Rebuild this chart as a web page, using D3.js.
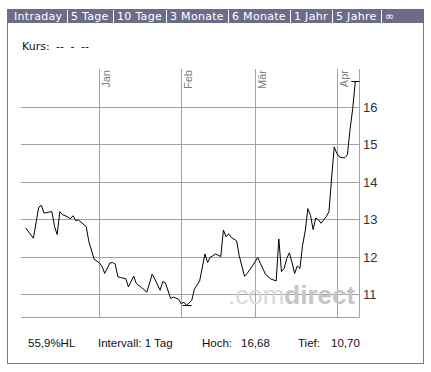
<!DOCTYPE html>
<html>
<head>
<meta charset="utf-8">
<script src="https://cdn.jsdelivr.net/npm/d3@7"></script>
<style>
body { margin: 0; background: #fff; }
svg { display: block; }
</style>
</head>
<body>
<svg id="chart" width="431" height="372"></svg>
<script>
// period selector captions
var tabLabels = ['Intraday', '5 Tage', '10 Tage', '3 Monate', '6 Monate', '1 Jahr', '5 Jahre', '\u221e'];

// daily prices
var dates = [
	'2008-12-04', '2008-12-07', '2008-12-09', '2008-12-10', '2008-12-11', '2008-12-13', '2008-12-14',
	'2008-12-15', '2008-12-16', '2008-12-17', '2008-12-18', '2008-12-20', '2008-12-21', '2008-12-22',
	'2008-12-23', '2008-12-24', '2008-12-25', '2008-12-27', '2008-12-28', '2008-12-30', '2009-01-01',
	'2009-01-02', '2009-01-03', '2009-01-05', '2009-01-06', '2009-01-07', '2009-01-08', '2009-01-09',
	'2009-01-11', '2009-01-12', '2009-01-14', '2009-01-15', '2009-01-17', '2009-01-19', '2009-01-21',
	'2009-01-22', '2009-01-24', '2009-01-25', '2009-01-26', '2009-01-28', '2009-01-29', '2009-01-31',
	'2009-02-01', '2009-02-02', '2009-02-03', '2009-02-05', '2009-02-06', '2009-02-08', '2009-02-10',
	'2009-02-11', '2009-02-12', '2009-02-13', '2009-02-14', '2009-02-16', '2009-02-17', '2009-02-18',
	'2009-02-19', '2009-02-20', '2009-02-22', '2009-02-23', '2009-02-25', '2009-02-26', '2009-02-28',
	'2009-03-01', '2009-03-02', '2009-03-03', '2009-03-05', '2009-03-07', '2009-03-09', '2009-03-10',
	'2009-03-11', '2009-03-12', '2009-03-13', '2009-03-14', '2009-03-15', '2009-03-16', '2009-03-17',
	'2009-03-18', '2009-03-19', '2009-03-20', '2009-03-21', '2009-03-22', '2009-03-23', '2009-03-24',
	'2009-03-25', '2009-03-26', '2009-03-27', '2009-03-28', '2009-03-29', '2009-03-30', '2009-03-31',
	'2009-04-01', '2009-04-02', '2009-04-03', '2009-04-04', '2009-04-05', '2009-04-06', '2009-04-07',
	'2009-04-08'
];
var prices = [
	12.77, 12.49, 13.32, 13.37, 13.16, 13.19, 13.20,
	12.80, 12.59, 13.20, 13.12, 13.06, 13.01, 13.09,
	12.96, 12.98, 12.92, 12.80, 12.40, 11.93, 11.83,
	11.74, 11.55, 11.83, 11.84, 11.80, 11.46, 11.44,
	11.41, 11.19, 11.48, 11.28, 11.17, 11.05, 11.53,
	11.40, 11.10, 11.33, 11.30, 10.88, 10.92, 10.86,
	10.74, 10.78, 10.70, 10.83, 11.13, 11.35, 12.07,
	11.84, 11.98, 12.02, 12.07, 12.00, 12.71, 12.53,
	12.61, 12.51, 12.42, 12.02, 11.47, 11.55, 11.75,
	11.86, 11.98, 11.82, 11.52, 11.40, 11.35, 12.47,
	11.60, 11.68, 11.95, 12.10, 11.84, 11.55, 11.75,
	11.68, 12.30, 12.68, 13.28, 13.10, 12.72, 13.03,
	12.98, 12.89, 12.98, 13.07, 13.20, 14.10, 14.93,
	14.75, 14.66, 14.64, 14.64, 14.72, 15.40, 15.95,
	16.68
];

var monthTicks = ['2009-01-01', '2009-02-01', '2009-03-01', '2009-04-01'];
var monthLabels = ['Jan', 'Feb', 'M\u00e4r', 'Apr'];
var priceTicks = [11, 12, 13, 14, 15, 16];
var xDomain = ['2008-12-02T16:00', '2009-04-09T12:00'];
var yDomain = [10.378, 17.01];

var chart = {
	draw : function() {
		var svg = d3.select('#chart');
		var parseDay = d3.timeParse('%Y-%m-%d'),
				parseTime = d3.timeParse('%Y-%m-%dT%H:%M');
		var de = d3.formatLocale({decimal: ',', thousands: '.', grouping: [3], currency: ['', ' \u20ac']});
		var fmt2 = de.format('.2f'), fmt1 = de.format('.1f');

		var plot = {left: 22, right: 359.3, top: 69, bottom: 317.3};

		var x = d3.scaleTime()
				.domain(xDomain.map(parseTime))
				.range([plot.left, plot.right]);
		var y = d3.scaleLinear()
				.domain(yDomain)
				.range([plot.bottom, plot.top]);

		var data = dates.map(function(d, i) { return {date: parseDay(d), price: prices[i]}; });
		var crisp = function(v) { return Math.round(v) + 0.5; };

		// frame and tab bar
		svg.append('rect')
			.attr('x', 7.5).attr('y', 9.5).attr('width', 416).attr('height', 354)
			.attr('fill', '#fff').attr('stroke', '#7a7a7a');
		svg.append('rect')
			.attr('x', 7).attr('y', 9).attr('width', 417).attr('height', 14)
			.attr('fill', '#6c6c88');

		var tx = 14;
		tabLabels.forEach(function(label, i) {
			var t = svg.append('text')
				.attr('x', tx).attr('y', 20)
				.attr('fill', '#fff')
				.style('font', '11px "DejaVu Sans"')
				.style('letter-spacing', '0.3px')
				.text(label);
			if (i < tabLabels.length - 1) {
				var sx = crisp(tx + t.node().getComputedTextLength() + 4.5);
				svg.append('line')
					.attr('x1', sx).attr('x2', sx).attr('y1', 10).attr('y2', 23)
					.attr('stroke', '#fff');
				tx = sx + 3.5;
			}
		});

		svg.append('text')
			.attr('x', 22).attr('y', 50)
			.attr('fill', '#111')
			.style('font', '11px "DejaVu Sans"')
			.style('word-spacing', '3px')
			.text('Kurs: -- - --');

		// grid
		var grid = svg.append('g').attr('stroke', '#a3a3a3').attr('stroke-width', 1);
		grid.selectAll('.hline')
			.data(priceTicks)
			.enter().append('line')
			.attr('x1', 21).attr('x2', crisp(plot.right))
			.attr('y1', function(d) { return crisp(y(d)); })
			.attr('y2', function(d) { return crisp(y(d)); });
		grid.selectAll('.vline')
			.data(monthTicks)
			.enter().append('line')
			.attr('x1', function(d) { return crisp(x(parseDay(d))); })
			.attr('x2', function(d) { return crisp(x(parseDay(d))); })
			.attr('y1', plot.top).attr('y2', crisp(plot.bottom));
		grid.append('line')
			.attr('x1', 21).attr('x2', crisp(plot.right))
			.attr('y1', crisp(plot.bottom)).attr('y2', crisp(plot.bottom));
		grid.append('line')
			.attr('x1', crisp(plot.right)).attr('x2', crisp(plot.right))
			.attr('y1', plot.top).attr('y2', crisp(plot.bottom));

		// month names, rotated
		svg.selectAll('.month')
			.data(monthTicks)
			.enter().append('text')
			.attr('transform', function(d) { return 'translate(' + (crisp(x(parseDay(d))) + 10) + ',' + 70 + ') rotate(-90)'; })
			.attr('text-anchor', 'end')
			.attr('fill', '#7c7c7c')
			.style('font', '11px "Liberation Sans"')
			.text(function(d, i) { return monthLabels[i]; });

		// price axis on the right
		svg.selectAll('.ylabel')
			.data(priceTicks)
			.enter().append('text')
			.attr('x', 363)
			.attr('y', function(d) { return crisp(y(d)) + 4.5; })
			.attr('fill', '#333')
			.style('font', '13px "Liberation Sans"')
			.text(function(d) { return d; });

		// watermark
		var wm = svg.append('text')
			.attr('x', 228).attr('y', 304)
			.style('font', '26px "Liberation Sans"');
		wm.append('tspan').attr('fill', '#d9d9d9').text('.com');
		wm.append('tspan').attr('fill', '#c6c6c6').style('font-weight', 'bold').text('direct');

		// price line
		var line = d3.line()
			.x(function(d) { return x(d.date); })
			.y(function(d) { return y(d.price); });
		svg.append('path')
			.datum(data)
			.attr('d', line)
			.attr('fill', 'none')
			.attr('stroke', '#000')
			.attr('stroke-width', 1);

		// high / low markers
		var hi = d3.max(data, function(d) { return d.price; }),
				lo = d3.min(data, function(d) { return d.price; });
		var marks = [data.find(function(d) { return d.price === hi; }), data.find(function(d) { return d.price === lo; })];
		svg.selectAll('.mark')
			.data(marks)
			.enter().append('line')
			.attr('x1', function(d) { return x(d.date) - 4; })
			.attr('x2', function(d) { return Math.min(x(d.date) + 5, plot.right); })
			.attr('y1', function(d) { return crisp(y(d.price)); })
			.attr('y2', function(d) { return crisp(y(d.price)); })
			.attr('stroke', '#000');

		// footer
		var foot = [
			{x: 28, t: fmt1((hi - lo) / lo * 100) + '%HL'},
			{x: 98, t: 'Intervall: 1 Tag'},
			{x: 202, t: 'Hoch:'},
			{x: 241, t: fmt2(hi)},
			{x: 298, t: 'Tief:'},
			{x: 331, t: fmt2(lo)}
		];
		svg.selectAll('.foot')
			.data(foot)
			.enter().append('text')
			.attr('x', function(d) { return d.x; })
			.attr('y', 347)
			.attr('fill', '#111')
			.style('font', '11.5px "Liberation Sans"')
			.text(function(d) { return d.t; });
	}
};
chart.draw();
</script>
</body>
</html>
